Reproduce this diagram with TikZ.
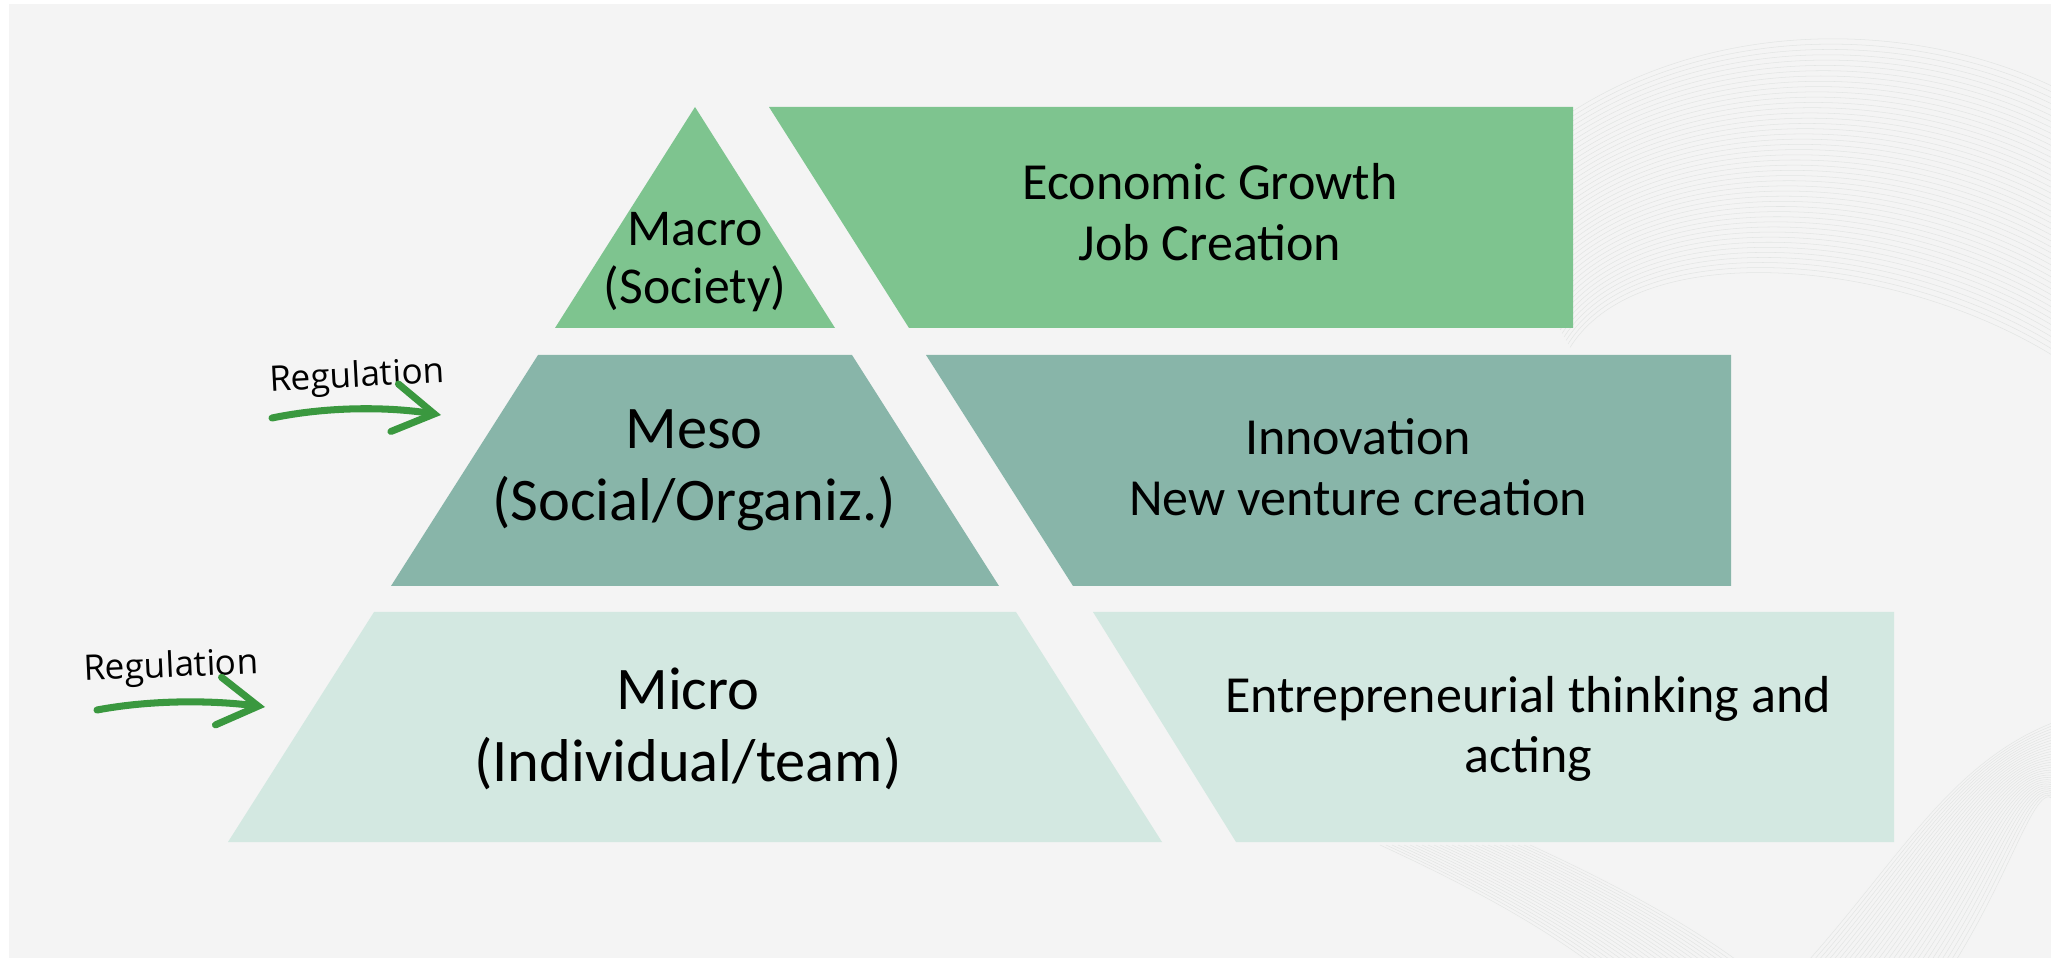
\documentclass[tikz,border=0pt]{standalone}
\usepackage{fontspec}
\setmainfont{Carlito}
\newfontfamily\handfont{Open Sans}
\usetikzlibrary{positioning, calc, arrows.meta}
\definecolor{panel}{HTML}{F4F4F4}
\definecolor{macrogreen}{HTML}{7EC48F}
\definecolor{mesoteal}{HTML}{88B5A9}
\definecolor{micromint}{HTML}{D3E8E1}
\definecolor{arrowgreen}{HTML}{3A983F}
\definecolor{waveline}{HTML}{E3E5E4}
\tikzset{lvl/.style={align=center, text=black},
         bigtxt/.style={lvl, font=\fontsize{17.2}{20.5}\selectfont},
         boxtxt/.style={lvl, font=\fontsize{14.8}{17.2}\selectfont},
         regtxt/.style={font=\handfont\fontsize{10}{12}\selectfont, inner sep=0pt},
         regarrow/.style={draw=arrowgreen, line width=2pt, line cap=round,
            -{Straight Barb[length=4mm, width=4.8mm, line cap=round]}},
         wave/.style={draw=waveline, line width=0.15pt}}

\begin{document}
\begin{tikzpicture}[x=0.01cm, y=-0.01cm]
\useasboundingbox (0,0) rectangle (2051,958);
\fill[white] (0,0) rectangle (2051,958);
\fill[panel] (9,4) rectangle (2051,958);

% background waves
\begin{scope}
\clip (9,4) rectangle (2051,958);
\foreach \i in {0,...,45}
    \draw[wave] (1480+\i*2, 190+\i*3.5) .. controls (1640, 10+\i*5) and (1900, 10+\i*5.5) .. (2060, 90+\i*6);
\foreach \i in {0,...,30}
    \draw[wave] (1800+\i*5, 970) .. controls (1900+\i*4, 860) and (1950+\i*3, 760) .. (2060, 720+\i*3);
\foreach \i in {0,...,25}
    \draw[wave] (1380+\i*6, 845) .. controls (1500+\i*6, 900) and (1560+\i*6, 940) .. (1600+\i*6, 970);
\end{scope}

% pyramid
\fill[macrogreen] (695,107) -- (835,328) -- (555,328) -- cycle;
\fill[mesoteal] (538,355) -- (852,355) -- (999,586) -- (391,586) -- cycle;
\fill[micromint] (374,612) -- (1016,612) -- (1162,842) -- (228,842) -- cycle;

% outcome boxes
\fill[macrogreen] (769,107) -- (1573,107) -- (1573,328) -- (909,328) -- cycle;
\fill[mesoteal] (926,355) -- (1731,355) -- (1731,586) -- (1073,586) -- cycle;
\fill[micromint] (1093,612) -- (1894,612) -- (1894,842) -- (1236,842) -- cycle;

\node[lvl, font=\fontsize{14.7}{16.5}\selectfont] (macro) at (695,262) {Macro\\(Society)};
\node[bigtxt] (meso) at (694,470) {Meso\\(Social/Organiz.)};
\node[bigtxt] (micro) at (688,729) {Micro\\(Individual/team)};

\node[boxtxt] (growth) at (1210,212) {Economic Growth\\Job Creation};
\node[boxtxt] (innov) at (1358,467) {Innovation\\New venture creation};
\node[boxtxt] (entre) at (1528,729) {Entrepreneurial thinking and\\acting};

% regulation arrows
\node[regtxt, rotate=3] (reg1) at (357,378) {Regulation};
\coordinate (r1s) at (272,418);
\coordinate (r1e) at (441,415);
\draw[regarrow] (r1s) .. controls (330,406) and (390,407) .. (r1e);

\node[regtxt, rotate=2.5] (reg2) at (171,668) {Regulation};
\coordinate (r2s) at (97,710);
\coordinate (r2e) at (265,707);
\draw[regarrow] (r2s) .. controls (150,700) and (210,700) .. (r2e);
\end{tikzpicture}
\end{document}
